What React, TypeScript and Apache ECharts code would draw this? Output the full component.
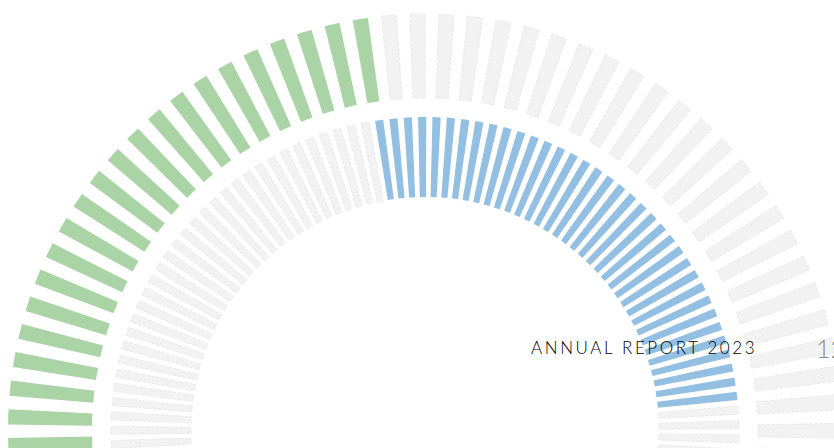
import React, { useEffect, useRef } from "react";
import * as echarts from "echarts";

// Ring definitions (outer ring, inner ring)
const ringNames = ["Outer ring", "Inner ring"];
const segmentsPerTurn = [91, 137]; // segments around a full circle
const filledCounts = [22, 36]; // coloured segments, counted clockwise from the first one
const firstSegmentAngle = [182, 98.4]; // angle (deg) of the first coloured segment's centre
const filledColors = ["#aad4a5", "#93bfe2"];
const emptyColor = "#f2f2f2";
const segmentShare = [0.53, 0.57]; // share of each step taken by the bar (rest is gap)

const titleText = "ANNUAL REPORT 2023";
const pageNumber = "12";

function buildRing(i: number) {
  const n = segmentsPerTurn[i];
  const step = 360 / n;
  const share = segmentShare[i];
  const data: any[] = [];
  for (let k = 0; k < n; k++) {
    const filled = k < filledCounts[i];
    data.push({
      value: share,
      name: ringNames[i] + " " + (k + 1),
      itemStyle: filled
        ? { color: filledColors[i] }
        : { color: emptyColor, borderColor: "#e4e4e4", borderWidth: 0.8, borderType: "dashed" },
    });
    data.push({
      value: 1 - share,
      name: "gap",
      itemStyle: { color: "rgba(0,0,0,0)", borderWidth: 0 },
    });
  }
  return { data, startAngle: firstSegmentAngle[i] + (share * step) / 2 };
}

export default function App() {
  const ref = useRef<HTMLDivElement>(null);
  useEffect(() => {
    if (!ref.current) return;
    const chart = echarts.init(ref.current, null, { renderer: "svg" });
    const radii = [
      [333, 417],
      [234, 314],
    ];
    const series = [0, 1].map((i) => {
      const r = buildRing(i);
      return {
        type: "pie",
        name: ringNames[i],
        center: [425, 431],
        radius: radii[i],
        startAngle: r.startAngle,
        clockwise: true,
        silent: true,
        label: { show: false },
        labelLine: { show: false },
        emphasis: { disabled: true },
        data: r.data,
      };
    });
    chart.setOption({
      animation: false,
      backgroundColor: "#ffffff",
      series,
      graphic: [
        {
          type: "text",
          z: 100,
          left: 531,
          top: 339,
          style: {
            text: titleText,
            font: '300 17px "Lato", "Open Sans", sans-serif',
            fill: new echarts.graphic.LinearGradient(0, 0, 1, 0, [
              { offset: 0, color: "#707070" },
              { offset: 0.4, color: "#707070" },
              { offset: 0.7, color: "#4b5f84" },
              { offset: 1, color: "#435a80" },
            ]),
          },
        },
        {
          type: "text",
          z: 100,
          left: 816,
          top: 335,
          style: {
            text: pageNumber,
            font: '300 25px "Lato", "Open Sans", sans-serif',
            fill: "#8a8a8a",
          },
        },
      ],
    });
    const applySpacing = () => {
      const texts = ref.current?.querySelectorAll("text") || [];
      texts.forEach((t: any) => {
        if (t.textContent === titleText) t.setAttribute("letter-spacing", "2.6");
      });
    };
    chart.on("finished", applySpacing);
    applySpacing();
    const id = setTimeout(applySpacing, 50);
    return () => {
      clearTimeout(id);
      chart.dispose();
    };
  }, []);
  return (
    <div
      ref={ref}
      style={{ position: "fixed", left: 0, top: 0, width: 834, height: 448 }}
    />
  );
}
